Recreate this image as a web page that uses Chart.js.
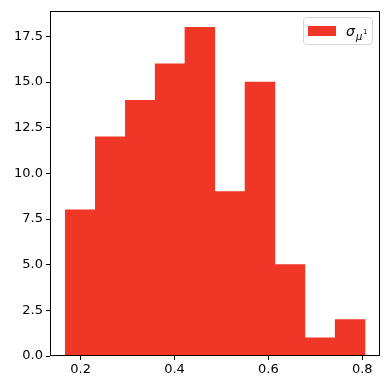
<!DOCTYPE html>
<html>
<head>
<meta charset="utf-8">
<script src="https://cdn.jsdelivr.net/npm/chart.js@4"></script>
<style>
  html, body { margin: 0; padding: 0; background: #fff; }
  #wrap { width: 390px; height: 390px; }
</style>
</head>
<body>
<div id="wrap"><canvas id="myChart" width="390" height="390"></canvas></div>
<script>
// histogram
const binEdges = [0.167, 0.231, 0.295, 0.359, 0.422, 0.486, 0.550, 0.614, 0.678, 0.742, 0.806];
const counts = [8, 12, 14, 16, 18, 9, 15, 5, 1, 2];
const yTicks = [0, 2.5, 5, 7.5, 10, 12.5, 15, 17.5];
const xTicks = [0.2, 0.4, 0.6, 0.8];
const seriesLabel = 'σ';

const barColor = '#f03727';
const font = { family: 'DejaVu Sans', size: 13 };

const points = counts.map((c, i) => ({ x: (binEdges[i] + binEdges[i + 1]) / 2, y: c }));

// matplotlib-like box around the plot + legend
const boxPlugin = {
    id: 'box',
    afterDraw(chart) {
        const ctx = chart.ctx;
        const a = chart.chartArea;
        ctx.save();
        ctx.strokeStyle = '#000';
        ctx.lineWidth = 1;
        ctx.strokeRect(Math.round(a.left) + 0.5, Math.round(a.top) + 0.5,
            Math.round(a.right - a.left) - 1, Math.round(a.bottom - a.top) - 1);

        // legend
        const lx = 303, ly = 17, lw = 69, lh = 27;
        ctx.fillStyle = 'rgba(255,255,255,0.8)';
        ctx.strokeStyle = '#d6d6d6';
        ctx.beginPath();
        ctx.roundRect(lx + 0.5, ly + 0.5, lw, lh, 3);
        ctx.fill();
        ctx.stroke();
        ctx.fillStyle = barColor;
        ctx.fillRect(lx + 5, ly + 9, 28, 10);
        ctx.fillStyle = '#000';
        ctx.textBaseline = 'alphabetic';
        ctx.font = 'italic 14px "DejaVu Sans"';
        ctx.fillText(seriesLabel, lx + 43, ly + 19);
        ctx.font = 'italic 10px "DejaVu Sans"';
        ctx.fillText('μ', lx + 53, ly + 23);
        ctx.font = '7px "DejaVu Sans"';
        ctx.fillText('1', lx + 60, ly + 17);
        ctx.restore();
    }
};

const ctx = document.getElementById('myChart').getContext('2d');
const chart = new Chart(ctx, {
    type: 'bar',
    data: {
        datasets: [{
            label: seriesLabel,
            data: points,
            backgroundColor: barColor,
            borderWidth: 0,
            barPercentage: 1,
            categoryPercentage: 1
        }]
    },
    options: {
        responsive: false,
        animation: false,
        layout: { padding: { top: 10, right: 10, left: 0, bottom: 0 } },
        plugins: { legend: { display: false }, tooltip: { enabled: false } },
        scales: {
            x: {
                type: 'linear',
                min: 0.1347,
                max: 0.8377,
                offset: false,
                afterBuildTicks(scale) { scale.ticks = xTicks.map(v => ({ value: v })); },
                afterFit(scale) { scale.height = 34; },
                ticks: {
                    color: '#000', font: font, padding: 2, maxRotation: 0,
                    callback: v => v.toFixed(1)
                },
                grid: { display: true, offset: false, drawOnChartArea: false, drawTicks: true, tickLength: 4, color: '#000' },
                border: { display: false }
            },
            y: {
                min: 0,
                max: 18.9,
                afterBuildTicks(scale) { scale.ticks = yTicks.map(v => ({ value: v })); },
                afterFit(scale) { scale.width = 50; },
                ticks: {
                    color: '#000', font: font, padding: 3,
                    callback: v => v.toFixed(1)
                },
                grid: { display: true, offset: false, drawOnChartArea: false, drawTicks: true, tickLength: 4, color: '#000' },
                border: { display: false }
            }
        }
    },
    plugins: [boxPlugin]
});
</script>
</body>
</html>
